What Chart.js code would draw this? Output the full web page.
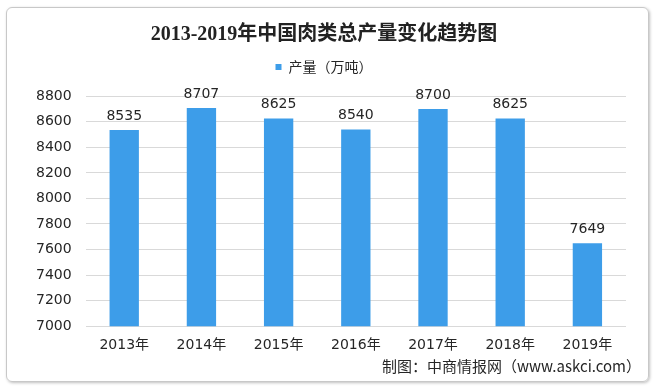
<!DOCTYPE html>
<html>
<head>
<meta charset="utf-8">
<script src="https://cdn.jsdelivr.net/npm/chart.js@4/dist/chart.umd.min.js"></script>
<style>
html,body{margin:0;padding:0;background:#fff;}
#frame{position:absolute;left:6px;top:7px;width:641px;height:373px;border:1px solid #c8c8c8;border-radius:6px;box-shadow:1px 1px 3px rgba(0,0,0,0.25);}
#wrap{position:absolute;left:0;top:0;width:656px;height:389px;}
</style>
</head>
<body>
<div id="frame"></div>
<div id="wrap"><canvas id="c" width="656" height="389"></canvas></div>
<script>
const categories = ["2013年","2014年","2015年","2016年","2017年","2018年","2019年"];
const production = [8535, 8707, 8625, 8540, 8700, 8625, 7649];
const seriesName = "产量（万吨）";
const titleText = "2013-2019年中国肉类总产量变化趋势图";
const sourceText = "制图：中商情报网（www.askci.com）";

const labelPlugin = {
  id: 'valueLabels',
  afterDatasetsDraw(chart) {
    const ctx = chart.ctx;
    const meta = chart.getDatasetMeta(0);
    ctx.save();
    ctx.font = '14px "DejaVu Sans", sans-serif';
    ctx.fillStyle = '#262626';
    ctx.textAlign = 'center';
    ctx.textBaseline = 'bottom';
    meta.data.forEach((bar, i) => {
      ctx.fillText(String(chart.data.datasets[0].data[i]), bar.x, bar.y - 7);
    });
    ctx.restore();
  }
};

const sourcePlugin = {
  id: 'sourceNote',
  afterDraw(chart) {
    const ctx = chart.ctx;
    ctx.save();
    ctx.font = '15px "Noto Sans CJK SC", sans-serif';
    ctx.fillStyle = '#262626';
    ctx.textAlign = 'right';
    ctx.textBaseline = 'middle';
    ctx.fillText(sourceText, 641, 366);
    ctx.restore();
  }
};

new Chart(document.getElementById('c'), {
  type: 'bar',
  data: {
    labels: categories,
    datasets: [{
      label: seriesName,
      data: production,
      backgroundColor: '#3d9de9',
      barPercentage: 0.38,
      categoryPercentage: 1.0
    }]
  },
  options: {
    responsive: false,
    animation: false,
    layout: { padding: { left: 22, right: 30, top: 23, bottom: 32 } },
    plugins: {
      title: {
        display: true,
        text: titleText,
        color: '#222',
        font: { family: '"Liberation Serif", "Noto Sans CJK SC", serif', size: 20, weight: 'bold' },
        padding: { top: 0, bottom: 2 }
      },
      legend: {
        display: true,
        labels: {
          boxWidth: 6, boxHeight: 6,
          color: '#262626',
          font: { family: '"Noto Sans CJK SC", sans-serif', size: 14 },
          padding: 11
        }
      },
      subtitle: {
        display: true,
        text: ' ',
        weight: 500,
        font: { size: 1 },
        padding: { top: 5, bottom: 6 }
      },
      tooltip: { enabled: false }
    },
    scales: {
      x: {
        grid: { display: false },
        border: { display: false },
        ticks: { color: '#262626', font: { family: '"DejaVu Sans", "Noto Sans CJK SC", sans-serif', size: 14 }, maxRotation: 0 }
      },
      y: {
        min: 7000, max: 8800,
        ticks: { stepSize: 200, color: '#262626', font: { family: '"DejaVu Sans", sans-serif', size: 14 }, padding: 14,
                 callback: (v) => String(v) },
        grid: { color: '#d9d9d9', drawTicks: false },
        border: { display: false }
      }
    }
  },
  plugins: [labelPlugin, sourcePlugin]
});
</script>
</body>
</html>
